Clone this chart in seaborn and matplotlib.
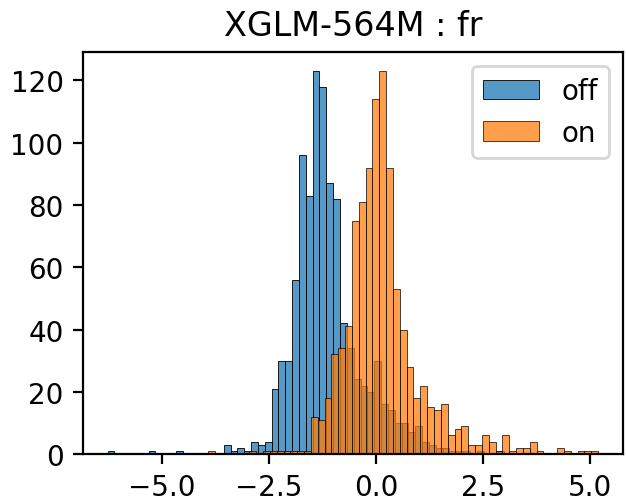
import numpy as np
import pandas as pd
import matplotlib
matplotlib.use("Agg")
import matplotlib.pyplot as plt
import seaborn as sns

# ---- data (histogram counts per bin) ----
title = "XGLM-564M : fr"
labels = ["off", "on"]

off_start = -6.28
on_start = -3.92
bin_width = 0.16

off_counts = [1, 0, 0, 0, 0, 0, 1, 0, 0, 0, 1, 0, 0, 0, 0, 0, 0,
              3, 1, 2, 1, 4, 3, 4,
              21, 30, 30, 56, 96, 83, 123, 118, 87, 82, 42,
              34, 24, 22, 20, 30, 16, 14, 10, 10, 7, 9, 4, 3, 2, 2,
              1, 1, 1, 0, 1, 0, 0, 1]

on_counts = [1, 0, 0, 0, 0, 0, 1, 0, 1, 1, 1, 1, 1, 1, 1,
             12, 11, 18, 32, 34, 41, 75, 81, 92, 114, 123,
             92, 53, 40, 28, 18, 22, 15, 14, 16, 6, 8, 9,
             3, 3, 6, 4, 1, 6, 1, 2, 2, 4, 1, 0, 0, 2, 1, 0, 1, 1, 1]

xticks = [-5.0, -2.5, 0.0, 2.5, 5.0]
yticks = [0, 20, 40, 60, 80, 100, 120]

DPI = 200
fig = plt.figure(figsize=(626 / DPI, 502 / DPI), dpi=DPI)
ax = fig.add_axes([0.1326, 0.0936, 0.862, 0.8008])

for start, counts, lab, col in [(off_start, off_counts, labels[0], "C0"),
                                (on_start, on_counts, labels[1], "C1")]:
    n = len(counts)
    centers = start + bin_width * (np.arange(n) + 0.5)
    df = pd.DataFrame({"value": centers, "count": np.asarray(counts, float)})
    sns.histplot(data=df, x="value", weights="count",
                 binwidth=bin_width,
                 binrange=(start, start + bin_width * n - 1e-9),
                 color=col, label=lab, ax=ax)

ax.set_title(title)
ax.set_xticks(xticks)
ax.set_yticks(yticks)
ax.set_ylabel("")
ax.set_xlabel("")
ax.legend(loc="upper right")

fig.savefig("out.png", dpi=DPI)
